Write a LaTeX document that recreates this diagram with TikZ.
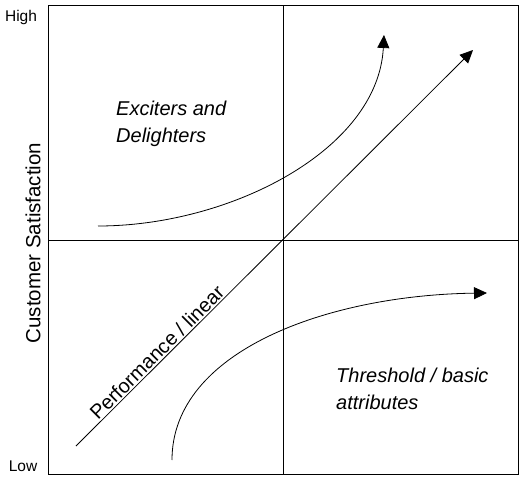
\documentclass[tikz,border=0pt]{standalone}
\usepackage{fontspec}
\setmainfont{Liberation Sans}
\usetikzlibrary{arrows.meta}
\tikzset{
    quad-box/.style = {draw=black, line width=0.9pt, rectangle, inner sep=0pt, minimum width=470pt, minimum height=469pt, anchor=north west},
    quad-line/.style = {draw=black, line width=0.9pt},
    kano-arrow/.style = {draw=black, line width=0.8pt, -{Triangle[length=13pt, width=12pt]}},
    region-label/.style = {font=\fontsize{20}{26.5}\selectfont\itshape, align=left, anchor=west, inner sep=0pt},
    level-label/.style = {font=\fontsize{15.5}{17}\selectfont, inner sep=0pt},
}

\begin{document}
\begin{tikzpicture}[x=1pt, y=-1pt]
\useasboundingbox (0,0) rectangle (523,479);
\node [quad-box] (box) at (48,5) {};
\draw [quad-line] (box.north) -- (box.south);
\draw [quad-line] (box.west) -- (box.east);

% axis
\node [level-label] (high) at (21,17) {High};
\node [level-label] (low) at (23,466) {Low};
\node [font=\fontsize{20.5}{24}\selectfont, rotate=90, inner sep=0pt] (sat) at (33,243) {Customer Satisfaction};

% curves
\coordinate (exc-start) at (98,226);
\coordinate (exc-end) at (384,35);
\coordinate (lin-start) at (76,446);
\coordinate (lin-end) at (473,50);
\coordinate (thr-start) at (172,460);
\coordinate (thr-end) at (487,293);
\draw [kano-arrow] (exc-start) .. controls (230,226) and (378,150) .. (exc-end);
\draw [kano-arrow] (lin-start) -- (lin-end)
    node [pos=0.22, above, sloped, inner sep=1.5pt, font=\fontsize{20}{24}\selectfont] (lin-label) {Performance / linear};
\draw [kano-arrow] (thr-start) .. controls (172,350) and (330,295) .. (thr-end);

\node [region-label] (exciters) at (116,124) {Exciters and\\Delighters};
\node [region-label] (threshold) at (336,389) {Threshold / basic\\attributes};
\end{tikzpicture}
\end{document}
